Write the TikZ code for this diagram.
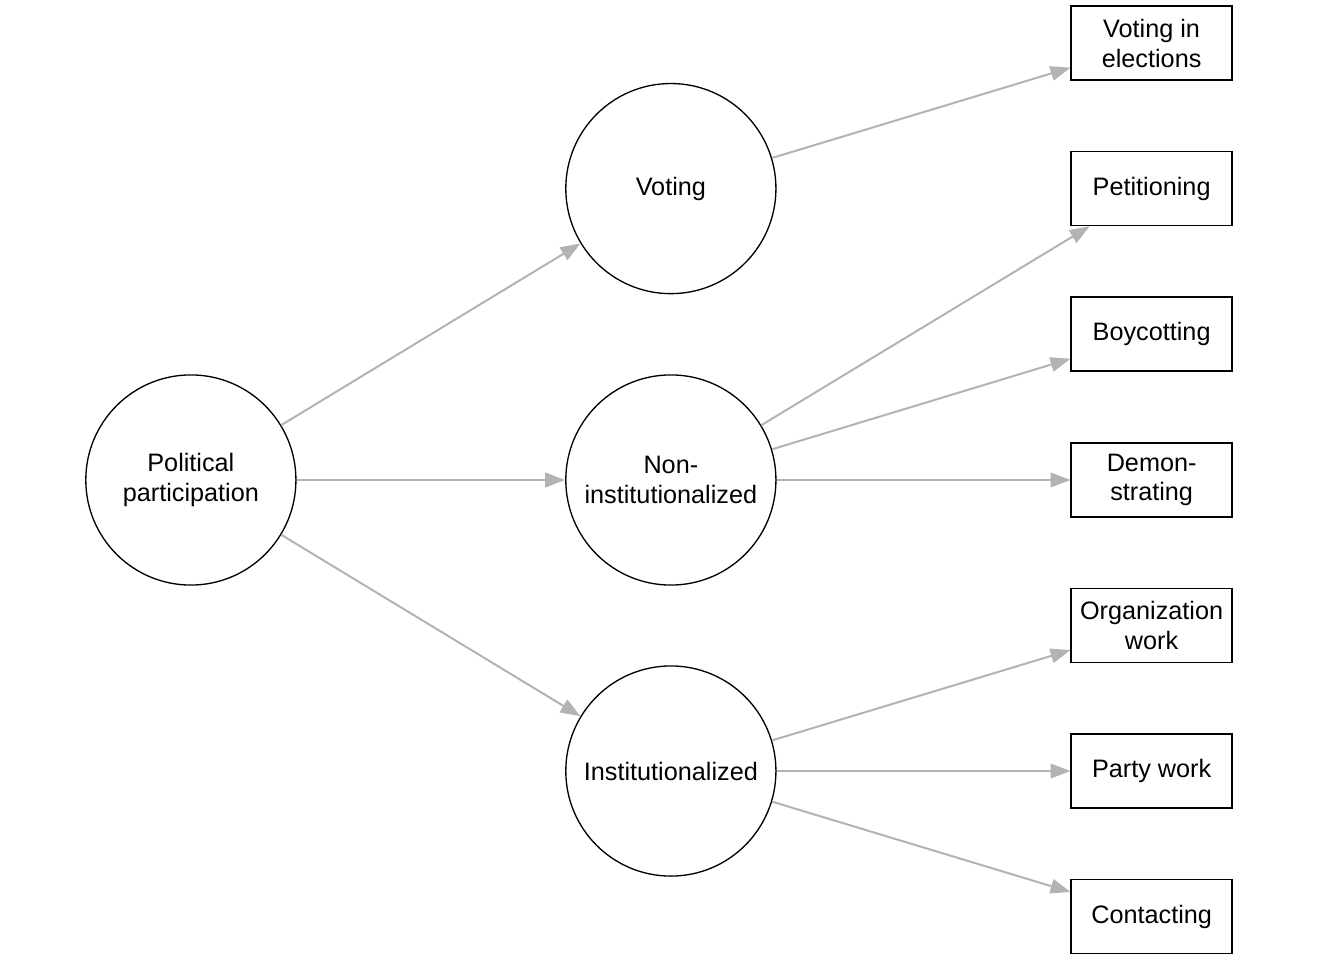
\documentclass[tikz,border=0pt]{standalone}
\usepackage{fontspec}
\setmainfont{Liberation Sans}
\usetikzlibrary{arrows.meta}
\definecolor{edgegray}{RGB}{179,179,179}

\begin{document}
\begin{tikzpicture}[
  every node/.style={font=\fontsize{19}{22.5}\selectfont, align=center},
  factor/.style={draw, line width=1pt, circle, minimum size=5.56cm, inner sep=0pt},
  item/.style={draw, line width=1pt, rectangle, minimum width=4.26cm, minimum height=1.96cm, inner sep=0pt},
  load/.style={draw=edgegray, line width=1.5pt, -{Triangle[length=15pt,width=11pt]}}
]
\useasboundingbox (0,0) rectangle (35.56,25.4);
% latent factors
\node[factor] (PP) at (5.05,12.70) {Political\\participation};
\node[factor] (V) at (17.75,20.41) {Voting};
\node[factor] (NI) at (17.75,12.70) {Non-\\institutionalized};
\node[factor] (I) at (17.75,5.00) {Institutionalized};
% indicators
\node[item] (VE) at (30.47,24.26) {Voting in\\elections};
\node[item] (Pet) at (30.47,20.41) {Petitioning};
\node[item] (Boy) at (30.47,16.56) {Boycotting};
\node[item] (Dem) at (30.47,12.70) {Demon-\\strating};
\node[item] (Org) at (30.47,8.85) {Organization\\work};
\node[item] (Party) at (30.47,5.00) {Party work};
\node[item] (Con) at (30.47,1.15) {Contacting};
% paths
\draw[load] (PP) -- (V);
\draw[load] (PP) -- (NI);
\draw[load] (PP) -- (I);
\draw[load] (V) -- (VE);
\draw[load] (NI) -- (Pet);
\draw[load] (NI) -- (Boy);
\draw[load] (NI) -- (Dem);
\draw[load] (I) -- (Org);
\draw[load] (I) -- (Party);
\draw[load] (I) -- (Con);
\end{tikzpicture}
\end{document}
